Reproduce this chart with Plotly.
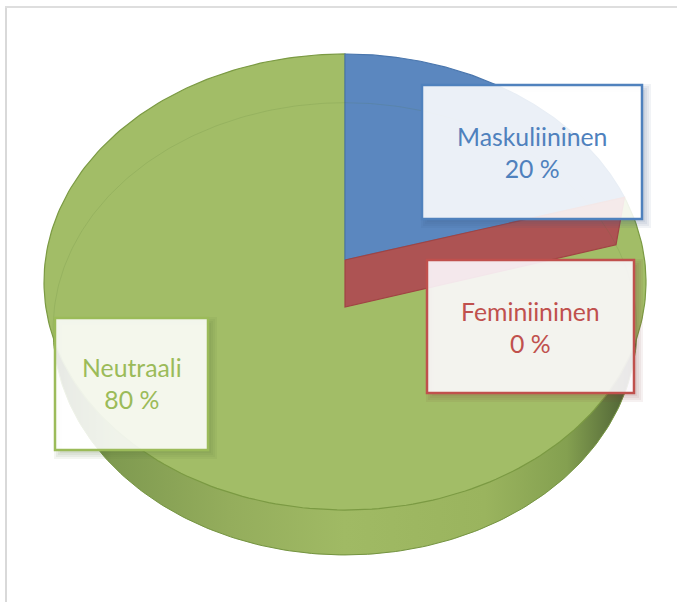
import numpy as np
import plotly.graph_objects as go

# ---- data ----
categories = ["Maskuliininen", "Feminiininen", "Neutraali"]
values = [20.4, 0, 79.6]

# ---- styles ----
FACE = ["#5b87bf", "#ad5353", "#a2bd67"]
EDGE = ["#4a76ad", "#a04444", "#7b9a43"]
TEXT = ["#4f81bd", "#c0504d", "#9bbb59"]
SHADOW = ["60,90,130", "130,60,60", "85,110,50"]
BOX_FILL = ["rgba(255,255,255,0.88)", "rgba(252,248,253,0.9)", "rgba(255,255,255,0.88)"]
BOXES = [(422, 85, 642, 219), (427, 260, 634, 393), (55, 318, 208, 450)]
TEXT_DY = [0.5, 0.5, -1.0]
W, H = 677, 602

# perspective projection of the pie's unit circle onto the page
CX = 345
TOP_APEX_Y, BOT_APEX_Y = 260, 307
K = -0.0965
A_TOP, A_BOT = 299.6, 290.5
B_TOP, B_BOT = 225.9, 224.0


def project(theta, r=1.0, level="top"):
    a, b, y0 = (A_TOP, B_TOP, TOP_APEX_Y) if level == "top" else (A_BOT, B_BOT, BOT_APEX_Y)
    s, c = r * np.sin(theta), r * np.cos(theta)
    d = 1 - K * c
    return CX + a * s / d, y0 - b * c / d


def ring(level):
    t = np.linspace(0, 2 * np.pi, 361)
    return project(t, 1.0, level)


fig = go.Figure()

# side wall: lower ellipse with a horizontal gradient
bx, by = ring("bottom")
fig.add_trace(go.Scatter(
    x=bx, y=by, mode="lines", fill="toself",
    line=dict(color="#7b9a43", width=1),
    fillgradient=dict(type="horizontal", colorscale=[
        [0.00, "#2f3a1c"], [0.03, "#55693a"], [0.10, "#7f9a50"], [0.30, "#94ad5c"],
        [0.50, "#a0ba64"], [0.74, "#9ab45e"], [0.88, "#84a050"], [0.97, "#566b39"],
        [1.00, "#39462a"]]),
    hoverinfo="skip", showlegend=False))

# top-face slices, clockwise from twelve o'clock
total = sum(values)
start = 0.0
order = [2, 0]  # Neutraali underneath, then Maskuliininen
angles = {}
for i, v in enumerate(values):
    angles[i] = (start, start + 2 * np.pi * v / total)
    start = angles[i][1]

for i in order:
    a0, a1 = angles[i]
    t = np.linspace(a0, a1, 240)
    px, py = project(t)
    ax, ay = project(0.0, 0.0)
    fig.add_trace(go.Scatter(
        x=np.r_[ax, px, ax], y=np.r_[ay, py, ay], mode="lines", fill="toself",
        fillcolor=FACE[i], line=dict(color=EDGE[i], width=1.2),
        hoverinfo="skip", showlegend=False))

# the 0 % slice only shows as its cut wall
a = angles[1][0]
x1, y1 = project(a)
x2, y2 = project(a, 1.0, "bottom")
x0, y0 = project(a, 0.0)
x3, y3 = project(a, 0.0, "bottom")
fig.add_trace(go.Scatter(
    x=[x0, x1, x2, x3, x0], y=[y0, y1, y2, y3, y0], mode="lines", fill="toself",
    fillcolor=FACE[1], line=dict(color=EDGE[1], width=1.2),
    hoverinfo="skip", showlegend=False))

# faint lower rim seen through the top face
fig.add_trace(go.Scatter(
    x=bx, y=by, mode="lines", line=dict(color="rgba(80,110,50,0.14)", width=1),
    hoverinfo="skip", showlegend=False))

shapes = [
    dict(type="rect", xref="x", yref="y", x0=5, x1=7, y0=6, y1=H, fillcolor="#d9d9d9",
         line=dict(width=0), layer="above"),
    dict(type="rect", xref="x", yref="y", x0=5, x1=W, y0=6, y1=8, fillcolor="#dedede",
         line=dict(width=0), layer="above"),
]


def hollow(x0, y0, x1, y1, grow, dx, dy):
    ox0, oy0, ox1, oy1 = x0 - grow + dx, y0 - grow + dy, x1 + grow + dx, y1 + grow + dy
    return (f"M{ox0},{oy0}L{ox1},{oy0}L{ox1},{oy1}L{ox0},{oy1}Z"
            f"M{x0},{y0}L{x0},{y1}L{x1},{y1}L{x1},{y0}Z")


annotations = []
for i, (x0, y0, x1, y1) in enumerate(BOXES):
    for grow in (-3, -1, 1, 3, 5):
        shapes.append(dict(type="path", path=hollow(x0, y0, x1, y1, grow, 4, 4),
                           fillcolor=f"rgba({SHADOW[i]},0.07)", line=dict(width=0), layer="above"))
    shapes.append(dict(type="rect", xref="x", yref="y", x0=x0, x1=x1, y0=y0, y1=y1,
                       fillcolor=BOX_FILL[i],
                       line=dict(color=TEXT[i], width=2.5), layer="above"))
    annotations.append(dict(
        x=(x0 + x1) / 2, y=(y0 + y1) / 2 + TEXT_DY[i], xref="x", yref="y", showarrow=False,
        text=f"{categories[i]}<br>{values[i]:.0f} %", align="center",
        font=dict(family="Lato, Carlito, Calibri, sans-serif", size=24.8, color=TEXT[i]),
    ))

fig.update_layout(
    width=W, height=H, autosize=False, margin=dict(l=0, r=0, t=0, b=0, pad=0),
    paper_bgcolor="white", plot_bgcolor="white", showlegend=False,
    xaxis=dict(range=[0, W], visible=False, fixedrange=True),
    yaxis=dict(range=[H, 0], visible=False, fixedrange=True),
    shapes=shapes, annotations=annotations,
)
fig.write_html("out.html", config=dict(displayModeBar=False),
               post_script="document.body.style.margin='0';")
